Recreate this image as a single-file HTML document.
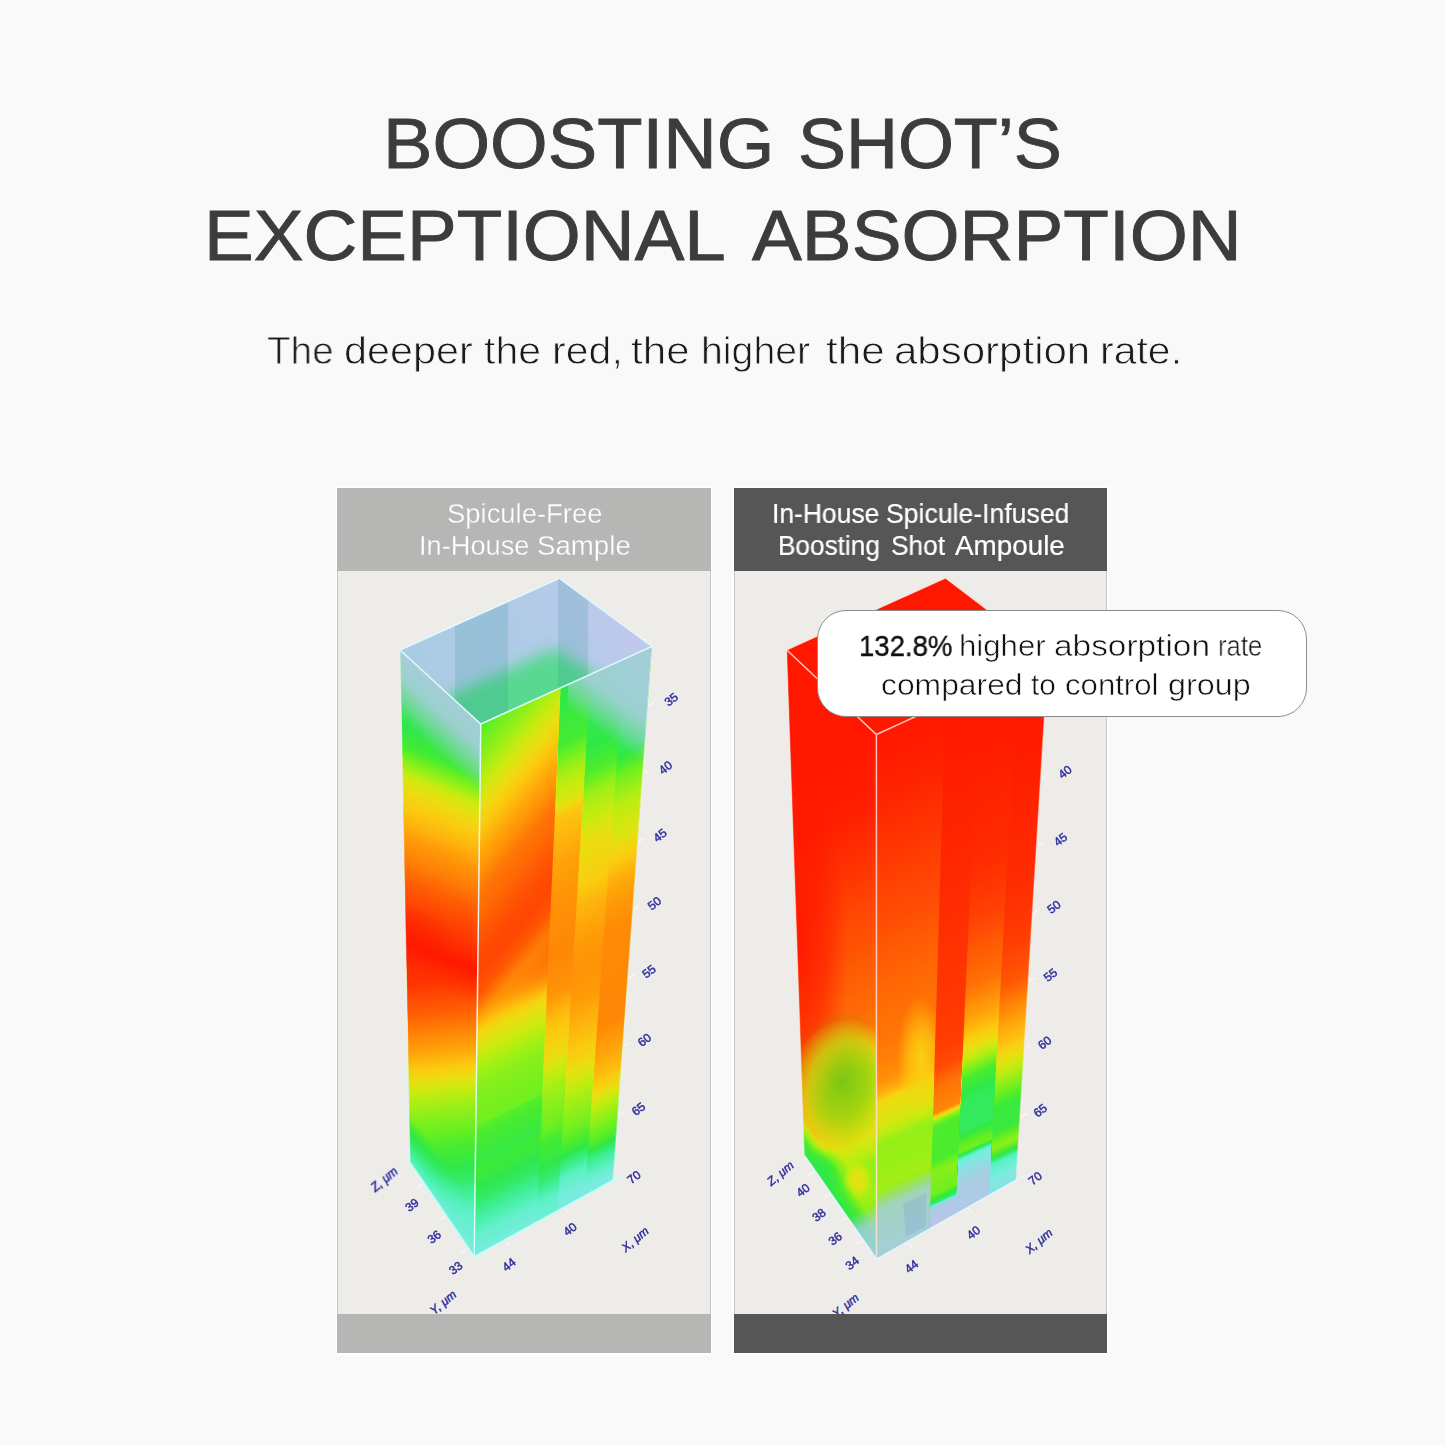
<!DOCTYPE html>
<html>
<head>
<meta charset="utf-8">
<title>Boosting Shot Absorption</title>
<style>
html,body{margin:0;padding:0;}
body{width:1445px;height:1445px;background:#f9f9f9;position:relative;overflow:hidden;font-family:"Liberation Sans",sans-serif;}
.t{position:absolute;white-space:nowrap;transform-origin:0 0;line-height:1;will-change:transform;}
.title{color:#3c3c3c;-webkit-text-stroke:0.9px #3c3c3c;}
.sub{color:#1a1a1a;-webkit-text-stroke:0.8px #f9f9f9;}
.panel{position:absolute;top:488px;height:865px;background:#eeece8;box-shadow:0 0 0 1.5px #fff;}
.hdr{position:absolute;left:0;top:0;width:100%;height:83px;}
.ftr{position:absolute;left:0;bottom:0;width:100%;height:39px;}
.edge{position:absolute;top:83px;bottom:39px;width:1px;background:#c9c7c8;}
.hl{color:#fff;}
.hL{-webkit-text-stroke:0.3px #b6b6b5;}
.hR{-webkit-text-stroke:0.2px #fff;}
.callout{position:absolute;left:816.5px;top:610px;width:488px;height:104.5px;border:1px solid #8c8c8c;border-radius:29px;background:#fff;}
.ct{color:#111;}
.cb{-webkit-text-stroke:0.4px #111;}
.cl{-webkit-text-stroke:0.55px #fff;}
svg{position:absolute;left:0;top:0;}
</style>
</head>
<body>
<div class="panel" style="left:337px;width:373.5px;">
  <div class="hdr" style="background:#b6b6b5;"></div>
  <div class="ftr" style="background:#b6b6b5;"></div>
  <div class="edge" style="left:0;"></div><div class="edge" style="right:0;"></div>
</div>
<div class="panel" style="left:733.5px;width:373px;">
  <div class="hdr" style="background:#565656;"></div>
  <div class="ftr" style="background:#565656;"></div>
  <div class="edge" style="left:0;"></div><div class="edge" style="right:0;"></div>
</div>
<svg width="1445" height="1445" viewBox="0 0 1445 1445">
<defs>
<filter id="jet" x="0" y="0" width="1445" height="1445" filterUnits="userSpaceOnUse" color-interpolation-filters="sRGB"><feComponentTransfer><feFuncR type="table" tableValues="0.722 0.690 0.659 0.580 0.471 0.345 0.251 0.204 0.188 0.282 0.439 0.596 0.769 0.910 0.988 1.000 1.000 1.000 1.000 1.000 1.000"/><feFuncG type="table" tableValues="0.776 0.792 0.808 0.863 0.933 0.949 0.941 0.925 0.910 0.925 0.941 0.941 0.925 0.878 0.800 0.690 0.573 0.463 0.353 0.220 0.094"/><feFuncB type="table" tableValues="0.918 0.910 0.894 0.886 0.878 0.753 0.596 0.408 0.282 0.188 0.125 0.094 0.063 0.063 0.063 0.047 0.031 0.024 0.016 0.008 0.000"/></feComponentTransfer></filter>
<filter id="b6" x="-30%" y="-30%" width="160%" height="160%"><feGaussianBlur stdDeviation="7"/></filter>
<clipPath id="cpALL"><rect x="338" y="571" width="371.5" height="743"/><rect x="734.5" y="571" width="371" height="743"/></clipPath><clipPath id="cpL"><rect x="338" y="571" width="371.5" height="743"/></clipPath><clipPath id="cpR"><rect x="734.5" y="571" width="371" height="743"/></clipPath>
<clipPath id="a1"><polygon points="400.0,650.0 559.4,578.4 652.0,646.4 613.0,1180.4 474.2,1256.8 410.0,1162.5"/></clipPath>
<linearGradient id="a2" gradientUnits="userSpaceOnUse" x1="498.2" y1="898.0" x2="532.3" y2="1239.2"><stop offset="0.0000" stop-color="#ffffff"/><stop offset="0.1449" stop-color="#fcfcfc"/><stop offset="0.2174" stop-color="#f5f5f5"/><stop offset="0.2609" stop-color="#ededed"/><stop offset="0.3159" stop-color="#e3e3e3"/><stop offset="0.3768" stop-color="#d1d1d1"/><stop offset="0.4348" stop-color="#c2c2c2"/><stop offset="0.4986" stop-color="#ababab"/><stop offset="0.5478" stop-color="#999999"/><stop offset="0.5971" stop-color="#8c8c8c"/><stop offset="0.6493" stop-color="#808080"/><stop offset="0.6986" stop-color="#757575"/><stop offset="0.7478" stop-color="#6b6b6b"/><stop offset="0.8000" stop-color="#5c5c5c"/><stop offset="0.8493" stop-color="#4c4c4c"/><stop offset="0.8986" stop-color="#404040"/><stop offset="1.0000" stop-color="#363636"/></linearGradient>
<linearGradient id="a3" gradientUnits="userSpaceOnUse" x1="489.1" y1="703.2" x2="381.7" y2="971.8"><stop offset="0.0000" stop-color="#666666"/><stop offset="0.1839" stop-color="#666666"/><stop offset="0.2452" stop-color="#707070"/><stop offset="0.2903" stop-color="#858585"/><stop offset="0.3387" stop-color="#9c9c9c"/><stop offset="0.4065" stop-color="#adadad"/><stop offset="0.4742" stop-color="#bababa"/><stop offset="0.5419" stop-color="#c9c9c9"/><stop offset="0.6065" stop-color="#d4d4d4"/><stop offset="0.6742" stop-color="#e3e3e3"/><stop offset="0.7419" stop-color="#ededed"/><stop offset="0.8097" stop-color="#f5f5f5"/><stop offset="0.8774" stop-color="#ffffff"/><stop offset="0.9355" stop-color="#f7f7f7" stop-opacity="0.6"/><stop offset="1.0000" stop-color="#ededed" stop-opacity="0"/></linearGradient>
<linearGradient id="a4" gradientUnits="userSpaceOnUse" x1="250.5" y1="882.8" x2="227.2" y2="898.9"><stop offset="0.0000" stop-color="#383838" stop-opacity="0"/><stop offset="0.6122" stop-color="#383838" stop-opacity="0.5"/><stop offset="1.0000" stop-color="#333333" stop-opacity="0.85"/></linearGradient>
<linearGradient id="a5" gradientUnits="userSpaceOnUse" x1="570.6" y1="903.7" x2="692.7" y2="1147.8"><stop offset="0.0000" stop-color="#f0f0f0"/><stop offset="0.0847" stop-color="#f2f2f2"/><stop offset="0.1531" stop-color="#e6e6e6"/><stop offset="0.1889" stop-color="#d9d9d9"/><stop offset="0.2215" stop-color="#c7c7c7"/><stop offset="0.2476" stop-color="#b8b8b8"/><stop offset="0.2736" stop-color="#ababab"/><stop offset="0.3388" stop-color="#9c9c9c"/><stop offset="0.3974" stop-color="#8f8f8f"/><stop offset="0.4528" stop-color="#878787"/><stop offset="0.5668" stop-color="#808080"/><stop offset="0.6221" stop-color="#787878"/><stop offset="0.6775" stop-color="#707070"/><stop offset="0.7492" stop-color="#6b6b6b"/><stop offset="0.8143" stop-color="#5c5c5c"/><stop offset="0.8730" stop-color="#4a4a4a"/><stop offset="0.9316" stop-color="#3b3b3b"/><stop offset="1.0000" stop-color="#333333"/></linearGradient>
<linearGradient id="a6" gradientUnits="userSpaceOnUse" x1="469.1" y1="713.8" x2="647.2" y2="868.7"><stop offset="0.0000" stop-color="#707070"/><stop offset="0.0658" stop-color="#757575"/><stop offset="0.1890" stop-color="#8f8f8f"/><stop offset="0.2466" stop-color="#9c9c9c"/><stop offset="0.3014" stop-color="#a8a8a8"/><stop offset="0.3589" stop-color="#b5b5b5"/><stop offset="0.4164" stop-color="#c2c2c2"/><stop offset="0.4740" stop-color="#cccccc"/><stop offset="0.5288" stop-color="#d9d9d9"/><stop offset="0.5863" stop-color="#dedede"/><stop offset="0.6438" stop-color="#e6e6e6"/><stop offset="0.7014" stop-color="#ebebeb"/><stop offset="0.7562" stop-color="#ededed"/><stop offset="0.8137" stop-color="#e6e6e6"/><stop offset="0.8438" stop-color="#d9d9d9" stop-opacity="0.85"/><stop offset="0.8712" stop-color="#c7c7c7" stop-opacity="0.65"/><stop offset="0.9041" stop-color="#b8b8b8" stop-opacity="0.4"/><stop offset="0.9452" stop-color="#ababab" stop-opacity="0.2"/><stop offset="1.0000" stop-color="#a3a3a3" stop-opacity="0"/></linearGradient>
<linearGradient id="a7" gradientUnits="userSpaceOnUse" x1="486.1" y1="734.6" x2="696.3" y2="1155.0"><stop offset="0.0000" stop-color="#666666"/><stop offset="0.0926" stop-color="#737373"/><stop offset="0.1481" stop-color="#919191"/><stop offset="0.2037" stop-color="#a3a3a3"/><stop offset="0.2259" stop-color="#b5b5b5"/><stop offset="0.3074" stop-color="#c4c4c4"/><stop offset="0.3889" stop-color="#cccccc"/><stop offset="0.4815" stop-color="#d1d1d1"/><stop offset="0.5556" stop-color="#cccccc"/><stop offset="0.6111" stop-color="#b8b8b8"/><stop offset="0.6759" stop-color="#a8a8a8"/><stop offset="0.7074" stop-color="#999999"/><stop offset="0.7389" stop-color="#8f8f8f"/><stop offset="0.7704" stop-color="#878787"/><stop offset="0.8037" stop-color="#808080"/><stop offset="0.8352" stop-color="#707070"/><stop offset="0.8704" stop-color="#696969"/><stop offset="0.9111" stop-color="#525252"/><stop offset="0.9407" stop-color="#3d3d3d"/><stop offset="1.0000" stop-color="#333333"/></linearGradient>
<linearGradient id="a8" gradientUnits="userSpaceOnUse" x1="492.2" y1="746.8" x2="686.6" y2="1135.6"><stop offset="0.0000" stop-color="#616161"/><stop offset="0.0994" stop-color="#666666"/><stop offset="0.1590" stop-color="#787878"/><stop offset="0.1988" stop-color="#8f8f8f"/><stop offset="0.2425" stop-color="#999999"/><stop offset="0.2863" stop-color="#a6a6a6"/><stop offset="0.3300" stop-color="#ababab"/><stop offset="0.3757" stop-color="#b2b2b2"/><stop offset="0.4195" stop-color="#bdbdbd"/><stop offset="0.4632" stop-color="#c4c4c4"/><stop offset="0.5070" stop-color="#c9c9c9"/><stop offset="0.5507" stop-color="#cccccc"/><stop offset="0.6163" stop-color="#c7c7c7"/><stop offset="0.6561" stop-color="#bfbfbf"/><stop offset="0.6899" stop-color="#b8b8b8"/><stop offset="0.7256" stop-color="#b0b0b0"/><stop offset="0.7594" stop-color="#a3a3a3"/><stop offset="0.7932" stop-color="#969696"/><stop offset="0.8270" stop-color="#8c8c8c"/><stop offset="0.8628" stop-color="#828282"/><stop offset="0.9046" stop-color="#707070"/><stop offset="0.9304" stop-color="#575757"/><stop offset="0.9583" stop-color="#404040"/><stop offset="1.0000" stop-color="#333333"/></linearGradient>
<linearGradient id="a9" gradientUnits="userSpaceOnUse" x1="498.4" y1="759.2" x2="687.2" y2="1136.9"><stop offset="0.0000" stop-color="#5c5c5c"/><stop offset="0.1122" stop-color="#616161"/><stop offset="0.1633" stop-color="#808080"/><stop offset="0.2245" stop-color="#969696"/><stop offset="0.2939" stop-color="#a3a3a3"/><stop offset="0.3388" stop-color="#b2b2b2"/><stop offset="0.3857" stop-color="#c2c2c2"/><stop offset="0.4306" stop-color="#c9c9c9"/><stop offset="0.4755" stop-color="#cfcfcf"/><stop offset="0.6735" stop-color="#d1d1d1"/><stop offset="0.7082" stop-color="#c9c9c9"/><stop offset="0.7449" stop-color="#c2c2c2"/><stop offset="0.7796" stop-color="#b8b8b8"/><stop offset="0.8143" stop-color="#a8a8a8"/><stop offset="0.8367" stop-color="#999999"/><stop offset="0.8714" stop-color="#8a8a8a"/><stop offset="0.9143" stop-color="#757575"/><stop offset="0.9449" stop-color="#525252"/><stop offset="0.9796" stop-color="#3b3b3b"/><stop offset="1.0000" stop-color="#333333"/></linearGradient>
<clipPath id="a10"><polygon points="400.0,650.0 480.8,724.0 474.2,1256.8 410.0,1162.5"/></clipPath>
<radialGradient id="a11"><stop offset="0" stop-color="#ffffff" stop-opacity="0.45"/><stop offset="0.5" stop-color="#ffffff" stop-opacity="0.270"/><stop offset="1" stop-color="#ffffff" stop-opacity="0"/></radialGradient>
<clipPath id="a12"><polygon points="400.0,650.0 559.4,578.4 652.0,646.4 480.8,724.0"/></clipPath>
<linearGradient id="a13" gradientUnits="userSpaceOnUse" x1="420" y1="700" x2="640" y2="600"><stop offset="0" stop-color="#aacbe4"/><stop offset="0.6" stop-color="#b2cbe8"/><stop offset="1" stop-color="#c3c8ee"/></linearGradient>
<linearGradient id="a14" gradientUnits="userSpaceOnUse" x1="480.8" y1="724.0" x2="446.5" y2="761.4"><stop offset="0.0000" stop-color="#aecbe5" stop-opacity="0.93"/><stop offset="0.3824" stop-color="#aecbe5" stop-opacity="0.85"/><stop offset="0.6765" stop-color="#aecbe5" stop-opacity="0.5"/><stop offset="1.0000" stop-color="#aecbe5" stop-opacity="0.0"/></linearGradient>
<linearGradient id="a15" gradientUnits="userSpaceOnUse" x1="559.0" y1="616.9" x2="518.5" y2="672.4"><stop offset="0.0000" stop-color="#aecbe5" stop-opacity="0.9"/><stop offset="0.4706" stop-color="#aecbe5" stop-opacity="0.85"/><stop offset="0.7647" stop-color="#aecbe5" stop-opacity="0.45"/><stop offset="1.0000" stop-color="#aecbe5" stop-opacity="0.0"/></linearGradient>
<clipPath id="a16"><polygon points="480.8,724.0 652.0,646.4 613.0,1180.4 474.2,1256.8"/></clipPath>
<clipPath id="b1"><polygon points="786.6,649.7 945.6,577.8 1048.0,656.0 1016.0,1180.3 876.5,1259.2 804.3,1155.4"/></clipPath>
<linearGradient id="b2" gradientUnits="userSpaceOnUse" x1="876.6" y1="734.9" x2="1086.2" y2="1154.1"><stop offset="0.0000" stop-color="#ffffff"/><stop offset="0.1240" stop-color="#fcfcfc"/><stop offset="0.2195" stop-color="#f5f5f5"/><stop offset="0.3149" stop-color="#ededed"/><stop offset="0.4103" stop-color="#e6e6e6"/><stop offset="0.5057" stop-color="#dedede"/><stop offset="0.5439" stop-color="#d9d9d9"/><stop offset="0.5859" stop-color="#cccccc"/><stop offset="0.6260" stop-color="#b8b8b8"/><stop offset="0.6775" stop-color="#b2b2b2"/><stop offset="0.7061" stop-color="#b0b0b0"/><stop offset="0.7252" stop-color="#a8a8a8"/><stop offset="0.7538" stop-color="#a3a3a3"/><stop offset="0.7824" stop-color="#999999"/><stop offset="0.8111" stop-color="#8c8c8c"/><stop offset="0.8397" stop-color="#8a8a8a"/><stop offset="0.8683" stop-color="#8f8f8f"/><stop offset="0.9160" stop-color="#878787"/><stop offset="1.0000" stop-color="#808080"/></linearGradient>
<clipPath id="b3"><polygon points="786.6,649.7 876.4,734.5 876.5,1259.2 804.3,1155.4"/></clipPath>
<radialGradient id="b4"><stop offset="0" stop-color="#ffffff" stop-opacity="0.95"/><stop offset="0.55" stop-color="#ffffff" stop-opacity="0.570"/><stop offset="1" stop-color="#ffffff" stop-opacity="0"/></radialGradient>
<radialGradient id="b5"><stop offset="0" stop-color="#808080" stop-opacity="0.85"/><stop offset="0.6" stop-color="#808080" stop-opacity="0.510"/><stop offset="1" stop-color="#808080" stop-opacity="0"/></radialGradient>
<radialGradient id="b6"><stop offset="0" stop-color="#757575" stop-opacity="0.8"/><stop offset="0.5" stop-color="#757575" stop-opacity="0.480"/><stop offset="1" stop-color="#757575" stop-opacity="0"/></radialGradient>
<radialGradient id="b7"><stop offset="0" stop-color="#616161" stop-opacity="0.95"/><stop offset="0.5" stop-color="#616161" stop-opacity="0.570"/><stop offset="1" stop-color="#616161" stop-opacity="0"/></radialGradient>
<radialGradient id="b8"><stop offset="0" stop-color="#adadad" stop-opacity="0.9"/><stop offset="0.5" stop-color="#adadad" stop-opacity="0.540"/><stop offset="1" stop-color="#adadad" stop-opacity="0"/></radialGradient>
<linearGradient id="b9" gradientUnits="userSpaceOnUse" x1="876.6" y1="734.9" x2="1072.7" y2="1170.7"><stop offset="0.0000" stop-color="#ffffff"/><stop offset="0.1240" stop-color="#fafafa"/><stop offset="0.2385" stop-color="#f2f2f2"/><stop offset="0.3531" stop-color="#ebebeb"/><stop offset="0.4485" stop-color="#e3e3e3"/><stop offset="0.5057" stop-color="#dedede"/><stop offset="0.5458" stop-color="#dbdbdb"/><stop offset="0.5859" stop-color="#d9d9d9"/><stop offset="0.6260" stop-color="#d4d4d4"/><stop offset="0.6660" stop-color="#cccccc"/><stop offset="0.6908" stop-color="#bdbdbd"/><stop offset="0.7080" stop-color="#a8a8a8"/><stop offset="0.7347" stop-color="#a3a3a3"/><stop offset="0.7576" stop-color="#9c9c9c"/><stop offset="0.7844" stop-color="#8c8c8c"/><stop offset="0.8244" stop-color="#8c8c8c"/><stop offset="0.8626" stop-color="#8f8f8f"/><stop offset="0.9065" stop-color="#878787"/><stop offset="1.0000" stop-color="#808080"/></linearGradient>
<clipPath id="b10"><polygon points="876.4,734.5 945.5,700.0 928.6,1262.0 876.5,1259.2"/></clipPath>
<radialGradient id="b11"><stop offset="0" stop-color="#adadad" stop-opacity="0.9"/><stop offset="0.5" stop-color="#adadad" stop-opacity="0.540"/><stop offset="1" stop-color="#adadad" stop-opacity="0"/></radialGradient>
<linearGradient id="b12" gradientUnits="userSpaceOnUse" x1="877.9" y1="737.9" x2="1071.1" y2="1167.1"><stop offset="0.0000" stop-color="#ffffff"/><stop offset="0.3810" stop-color="#f7f7f7"/><stop offset="0.6514" stop-color="#f0f0f0"/><stop offset="0.6914" stop-color="#ebebeb"/><stop offset="0.7314" stop-color="#d9d9d9"/><stop offset="0.7771" stop-color="#d1d1d1"/><stop offset="0.7924" stop-color="#8c8c8c"/><stop offset="0.8038" stop-color="#757575"/><stop offset="0.8686" stop-color="#737373"/><stop offset="0.8895" stop-color="#878787"/><stop offset="0.9333" stop-color="#808080"/><stop offset="0.9505" stop-color="#595959"/><stop offset="0.9600" stop-color="#0a0a0a"/><stop offset="1.0000" stop-color="#000000"/></linearGradient>
<linearGradient id="b13" gradientUnits="userSpaceOnUse" x1="883.9" y1="751.1" x2="1066.8" y2="1157.6"><stop offset="0.0000" stop-color="#ffffff"/><stop offset="0.3200" stop-color="#f7f7f7"/><stop offset="0.4400" stop-color="#ededed"/><stop offset="0.5600" stop-color="#dbdbdb"/><stop offset="0.6020" stop-color="#cccccc"/><stop offset="0.6420" stop-color="#bfbfbf"/><stop offset="0.6760" stop-color="#adadad"/><stop offset="0.7060" stop-color="#999999"/><stop offset="0.7460" stop-color="#737373"/><stop offset="0.7920" stop-color="#5e5e5e"/><stop offset="0.8500" stop-color="#5e5e5e"/><stop offset="0.8760" stop-color="#7a7a7a"/><stop offset="0.8920" stop-color="#808080"/><stop offset="0.9060" stop-color="#383838"/><stop offset="0.9540" stop-color="#1a1a1a"/><stop offset="1.0000" stop-color="#0f0f0f"/></linearGradient>
<linearGradient id="b14" gradientUnits="userSpaceOnUse" x1="889.7" y1="764.2" x2="1063.6" y2="1150.5"><stop offset="0.0000" stop-color="#ffffff"/><stop offset="0.3774" stop-color="#f7f7f7"/><stop offset="0.5031" stop-color="#f0f0f0"/><stop offset="0.5870" stop-color="#e6e6e6"/><stop offset="0.6310" stop-color="#d4d4d4"/><stop offset="0.6730" stop-color="#c4c4c4"/><stop offset="0.7170" stop-color="#b5b5b5"/><stop offset="0.7610" stop-color="#9e9e9e"/><stop offset="0.8050" stop-color="#858585"/><stop offset="0.8470" stop-color="#6b6b6b"/><stop offset="0.8910" stop-color="#6b6b6b"/><stop offset="0.9266" stop-color="#8a8a8a"/><stop offset="0.9434" stop-color="#737373"/><stop offset="0.9602" stop-color="#404040"/><stop offset="1.0000" stop-color="#2e2e2e"/></linearGradient>
<linearGradient id="b15" gradientUnits="userSpaceOnUse" x1="648.1" y1="893.1" x2="630.7" y2="905.1"><stop offset="0.0000" stop-color="#666666" stop-opacity="0"/><stop offset="0.5676" stop-color="#666666" stop-opacity="0.8"/><stop offset="1.0000" stop-color="#616161" stop-opacity="0.95"/></linearGradient>
<linearGradient id="b16" gradientUnits="userSpaceOnUse" x1="1063.8" y1="1109.3" x2="1086.2" y2="1154.1"><stop offset="0.0000" stop-color="#a9cbe8" stop-opacity="0.0"/><stop offset="0.3393" stop-color="#a9cbe8" stop-opacity="0.78"/><stop offset="1.0000" stop-color="#a9cbe8" stop-opacity="0.92"/></linearGradient>
<linearGradient id="b17" gradientUnits="userSpaceOnUse" x1="1047.6" y1="1115.0" x2="1072.7" y2="1170.7"><stop offset="0.0000" stop-color="#a9cbe8" stop-opacity="0.0"/><stop offset="0.2836" stop-color="#a9cbe8" stop-opacity="0.8"/><stop offset="1.0000" stop-color="#a9cbe8" stop-opacity="0.93"/></linearGradient>
<radialGradient id="b18"><stop offset="0" stop-color="#6f9c0c" stop-opacity="0.5"/><stop offset="0.55" stop-color="#6f9c0c" stop-opacity="0.300"/><stop offset="1" stop-color="#6f9c0c" stop-opacity="0"/></radialGradient>
</defs>
<g filter="url(#jet)"><g clip-path="url(#a1)"><polygon points="400.0,650.0 559.4,578.4 652.0,646.4 613.0,1180.4 474.2,1256.8 410.0,1162.5" fill="#666666" /><polygon points="400.0,650.0 480.8,724.0 474.2,1256.8 410.0,1162.5" fill="url(#a2)" /><polygon points="400.0,650.0 480.8,724.0 474.2,1256.8 410.0,1162.5" fill="url(#a3)" /><polygon points="400.0,650.0 480.8,724.0 474.2,1256.8 410.0,1162.5" fill="url(#a4)" /><polygon points="480.8,724.0 652.0,646.4 613.0,1180.4 474.2,1256.8" fill="url(#a5)" /><polygon points="480.8,724.0 652.0,646.4 613.0,1180.4 474.2,1256.8" fill="url(#a6)" /><polygon points="564.7,600.0 596.1,600.0 555.0,1262.0 534.6,1262.0" fill="url(#a7)" /><polygon points="595.5,600.0 629.0,600.0 580.5,1262.0 554.4,1262.0" fill="url(#a8)" /><polygon points="628.4,600.0 659.0,600.0 610.7,1262.0 579.9,1262.0" fill="url(#a9)" /><polygon points="476.0,1127.0 543.0,1094.0 543.0,1131.0 476.0,1167.0" fill="#000000" opacity="0.045"/><g clip-path="url(#a10)"><ellipse cx="0" cy="0" rx="50" ry="26" transform="translate(412,932) rotate(25)" fill="url(#a11)"/></g></g><g clip-path="url(#b1)"><polygon points="786.6,649.7 945.6,577.8 1048.0,656.0 1016.0,1180.3 876.5,1259.2 804.3,1155.4" fill="#ffffff" /><polygon points="786.6,649.7 876.4,734.5 876.5,1259.2 804.3,1155.4" fill="url(#b2)" /><g clip-path="url(#b3)"><ellipse cx="0" cy="0" rx="52" ry="190" transform="translate(796,940) rotate(-1.5)" fill="url(#b4)"/></g><g clip-path="url(#b3)"><ellipse cx="0" cy="0" rx="52" ry="62" transform="translate(844,1080) rotate(10)" fill="url(#b5)"/></g><g clip-path="url(#b3)"><ellipse cx="0" cy="0" rx="26" ry="30" transform="translate(820,1128) rotate(0)" fill="url(#b6)"/></g><g clip-path="url(#b3)"><ellipse cx="0" cy="0" rx="26" ry="26" transform="translate(822,1172) rotate(0)" fill="url(#b7)"/></g><g clip-path="url(#b3)"><ellipse cx="0" cy="0" rx="15" ry="20" transform="translate(858,1180) rotate(0)" fill="url(#b8)"/></g><polygon points="876.4,734.5 1048.0,656.0 1016.0,1180.3 876.5,1259.2" fill="url(#b9)" /><g clip-path="url(#b10)"><ellipse cx="0" cy="0" rx="24" ry="62" transform="translate(921,1058) rotate(0)" fill="url(#b11)"/></g><polygon points="948.5,600.0 983.9,600.0 954.1,1262.0 928.6,1262.0" fill="url(#b12)" /><polygon points="983.2,600.0 1022.4,600.0 985.9,1262.0 953.5,1262.0" fill="url(#b13)" /><polygon points="1021.8,600.0 1055.1,600.0 1014.9,1262.0 985.3,1262.0" fill="url(#b14)" /><polygon points="800.0,1090.0 877.0,1090.0 877.0,1262.0 800.0,1150.0" fill="url(#b15)" /></g></g>
<g clip-path="url(#a1)"><polygon points="400.0,650.0 559.4,578.4 652.0,646.4 480.8,724.0" fill="url(#a13)" /><g clip-path="url(#a12)"><polygon points="394.0,720.0 555.4,648.4 658.0,716.4 480.8,854.0" fill="#3fdc78" opacity="0.78" filter="url(#b6)"/></g><g clip-path="url(#a12)" opacity="0.16"><polygon points="455,560 508,560 508,760 455,760" fill="#2a8a90"/><polygon points="558,560 588,560 588,760 558,760" fill="#2a8a90"/></g><polygon points="400.0,650.0 480.8,724.0 480.8,804.0 400.0,730.0" fill="url(#a14)" /><g clip-path="url(#a16)"><polygon points="568.1,600.0 700.0,600.0 700.0,760.0 568.1,760.0" fill="url(#a15)"/></g></g><g clip-path="url(#b1)"><polygon points="786.6,649.7 876.4,734.5 876.5,1259.2 804.3,1155.4" fill="url(#b16)" /><polygon points="876.4,734.5 944.5,700.0 928.6,1262.0 876.5,1259.2" fill="url(#b17)" /><g clip-path="url(#b3)"><ellipse cx="0" cy="0" rx="50" ry="72" transform="translate(840,1080) rotate(8)" fill="url(#b18)"/></g><polygon points="903.0,1204.0 926.0,1193.0 926.0,1226.0 906.0,1237.0" fill="#7f9fd8" opacity="0.28"/></g>
<path d="M400,650 L559.4,578.4 L652,646.4 L480.8,724 Z M480.8,724 L474.2,1256.8" fill="none" stroke="#e4fbff" stroke-opacity="0.95" stroke-width="1.5"/><path d="M400,650 L410,1162.5 M613,1180.4 L652,646.4" fill="none" stroke="#e4fbff" stroke-opacity="0.47" stroke-width="1.3"/><path d="M410,1162.5 L474.2,1256.8 L622.7,1175.1" fill="none" stroke="#c4fff6" stroke-opacity="0.9" stroke-width="1.8"/>
<path d="M786.6,649.7 L945.6,577.8 L1048,656 L876.4,734.5 Z M876.4,734.5 L876.5,1259.2" fill="none" stroke="#ffe2dc" stroke-opacity="0.85" stroke-width="1.5"/><path d="M786.6,649.7 L804.3,1155.4 M1016,1180.3 L1048,656" fill="none" stroke="#ffe2dc" stroke-opacity="0.42" stroke-width="1.3"/><path d="M804.3,1155.4 L876.5,1259.2 L1025.8,1174.8" fill="none" stroke="#e6f6ff" stroke-opacity="0.9" stroke-width="1.8"/>
<g clip-path="url(#cpALL)"><path d="M648.7,705.5 l5.5,-3 M643.7,773.7 l5.5,-3 M638.8,841.4 l5.5,-3 M633.8,909.4 l5.5,-3 M628.8,977.6 l5.5,-3 M623.8,1046.0 l5.5,-3 M618.8,1115.0 l5.5,-3 M506.0,1240.8 l3.3,5 M565.0,1208.4 l3.3,5 M423.0,1184.1 l-5.5,3.5 M445.0,1216.4 l-5.5,3.5 M467.0,1248.7 l-5.5,3.5 M1041.7,778.0 l5.5,-3 M1037.6,845.6 l5.5,-3 M1033.5,913.1 l5.5,-3 M1029.3,981.0 l5.5,-3 M1025.2,1048.8 l5.5,-3 M1021.1,1116.6 l5.5,-3 M908.6,1242.5 l3.3,5 M968.6,1208.6 l3.3,5 M814.0,1171.8 l-5.5,3.5 M830.0,1194.8 l-5.5,3.5 M846.0,1217.8 l-5.5,3.5 M862.0,1240.8 l-5.5,3.5" fill="none" stroke="#ffffff" stroke-opacity="0.7" stroke-width="1.3"/></g>
<g fill="#2b2b9c" font-family="Liberation Sans, sans-serif" clip-path="url(#cpL)"></g>
<g fill="#2f2f9e" stroke="#2f2f9e" stroke-width="0.45" font-family="Liberation Sans, sans-serif"><g clip-path="url(#cpALL)"><text x="0" y="0" transform="translate(671.2,699.5) rotate(-38)" text-anchor="middle" dominant-baseline="central" font-size="12">35</text>
<text x="0" y="0" transform="translate(665.6,767.7) rotate(-38)" text-anchor="middle" dominant-baseline="central" font-size="12">40</text>
<text x="0" y="0" transform="translate(660.1,835.4) rotate(-38)" text-anchor="middle" dominant-baseline="central" font-size="12">45</text>
<text x="0" y="0" transform="translate(654.6,903.4) rotate(-38)" text-anchor="middle" dominant-baseline="central" font-size="12">50</text>
<text x="0" y="0" transform="translate(649,971.6) rotate(-38)" text-anchor="middle" dominant-baseline="central" font-size="12">55</text>
<text x="0" y="0" transform="translate(644.5,1040) rotate(-38)" text-anchor="middle" dominant-baseline="central" font-size="12">60</text>
<text x="0" y="0" transform="translate(638.6,1109) rotate(-38)" text-anchor="middle" dominant-baseline="central" font-size="12">65</text>
<text x="0" y="0" transform="translate(634,1177.3) rotate(-38)" text-anchor="middle" dominant-baseline="central" font-size="12">70</text>
<text x="0" y="0" transform="translate(570,1229.3) rotate(-38)" text-anchor="middle" dominant-baseline="central" font-size="12">40</text>
<text x="0" y="0" transform="translate(509,1264.7) rotate(-38)" text-anchor="middle" dominant-baseline="central" font-size="12">44</text>
<text x="0" y="0" transform="translate(412,1205) rotate(-38)" text-anchor="middle" dominant-baseline="central" font-size="12">39</text>
<text x="0" y="0" transform="translate(434.2,1237) rotate(-38)" text-anchor="middle" dominant-baseline="central" font-size="12">36</text>
<text x="0" y="0" transform="translate(455.7,1268) rotate(-38)" text-anchor="middle" dominant-baseline="central" font-size="12">33</text>
<text x="0" y="0" transform="translate(635.2,1239.3) rotate(-40)" text-anchor="middle" dominant-baseline="central" font-size="12" font-style="italic">X, μm</text>
<text x="0" y="0" transform="translate(384.4,1179.5) rotate(-40)" text-anchor="middle" dominant-baseline="central" font-size="12" font-style="italic">Z, μm</text>
<text x="0" y="0" transform="translate(443,1302.4) rotate(-40)" text-anchor="middle" dominant-baseline="central" font-size="12" font-style="italic">Y, μm</text>
<text x="0" y="0" transform="translate(1065.1,772) rotate(-38)" text-anchor="middle" dominant-baseline="central" font-size="12">40</text>
<text x="0" y="0" transform="translate(1060.5,839.6) rotate(-38)" text-anchor="middle" dominant-baseline="central" font-size="12">45</text>
<text x="0" y="0" transform="translate(1054,907.1) rotate(-38)" text-anchor="middle" dominant-baseline="central" font-size="12">50</text>
<text x="0" y="0" transform="translate(1050.6,975) rotate(-38)" text-anchor="middle" dominant-baseline="central" font-size="12">55</text>
<text x="0" y="0" transform="translate(1044.9,1042.8) rotate(-38)" text-anchor="middle" dominant-baseline="central" font-size="12">60</text>
<text x="0" y="0" transform="translate(1040.4,1110.6) rotate(-38)" text-anchor="middle" dominant-baseline="central" font-size="12">65</text>
<text x="0" y="0" transform="translate(1035.4,1178.4) rotate(-38)" text-anchor="middle" dominant-baseline="central" font-size="12">70</text>
<text x="0" y="0" transform="translate(973.6,1232.7) rotate(-38)" text-anchor="middle" dominant-baseline="central" font-size="12">40</text>
<text x="0" y="0" transform="translate(911.6,1266.6) rotate(-38)" text-anchor="middle" dominant-baseline="central" font-size="12">44</text>
<text x="0" y="0" transform="translate(803.1,1190.3) rotate(-38)" text-anchor="middle" dominant-baseline="central" font-size="12">40</text>
<text x="0" y="0" transform="translate(819,1215) rotate(-38)" text-anchor="middle" dominant-baseline="central" font-size="12">38</text>
<text x="0" y="0" transform="translate(835.3,1238.8) rotate(-38)" text-anchor="middle" dominant-baseline="central" font-size="12">36</text>
<text x="0" y="0" transform="translate(852.2,1263.2) rotate(-38)" text-anchor="middle" dominant-baseline="central" font-size="12">34</text>
<text x="0" y="0" transform="translate(1038.8,1241.1) rotate(-40)" text-anchor="middle" dominant-baseline="central" font-size="12" font-style="italic">X, μm</text>
<text x="0" y="0" transform="translate(780.4,1173.3) rotate(-40)" text-anchor="middle" dominant-baseline="central" font-size="12" font-style="italic">Z, μm</text>
<text x="0" y="0" transform="translate(845.5,1305.6) rotate(-40)" text-anchor="middle" dominant-baseline="central" font-size="12" font-style="italic">Y, μm</text></g></g>
</svg>
<div class="callout"></div>
<div class="t title" style="left:382.79px;top:108.23px;font-size:71.2px;transform:scaleX(1.0415);">BOOSTING</div>
<div class="t title" style="left:797.77px;top:108.23px;font-size:71.2px;transform:scaleX(1.0103);">SHOT’S</div>
<div class="t title" style="left:204.17px;top:200.43px;font-size:71.2px;transform:scaleX(1.0468);">EXCEPTIONAL</div>
<div class="t title" style="left:752.20px;top:200.43px;font-size:71.2px;transform:scaleX(1.0493);">ABSORPTION</div>
<div class="t sub" style="left:267.20px;top:331.39px;font-size:39.0px;transform:scaleX(0.9922);">The</div>
<div class="t sub" style="left:344.14px;top:331.39px;font-size:39.0px;transform:scaleX(1.0610);">deeper</div>
<div class="t sub" style="left:484.40px;top:331.39px;font-size:39.0px;transform:scaleX(1.0528);">the</div>
<div class="t sub" style="left:551.59px;top:331.39px;font-size:39.0px;transform:scaleX(1.0534);">red,</div>
<div class="t sub" style="left:630.80px;top:331.39px;font-size:39.0px;transform:scaleX(1.0833);">the</div>
<div class="t sub" style="left:700.99px;top:331.39px;font-size:39.0px;transform:scaleX(1.0073);">higher</div>
<div class="t sub" style="left:826.10px;top:331.39px;font-size:39.0px;transform:scaleX(1.0852);">the</div>
<div class="t sub" style="left:893.92px;top:331.39px;font-size:39.0px;transform:scaleX(1.0773);">absorption</div>
<div class="t sub" style="left:1099.70px;top:331.39px;font-size:39.0px;transform:scaleX(1.0519);">rate.</div>
<div class="t hl hL" style="left:446.68px;top:501.11px;font-size:26.8px;transform:scaleX(1.0233);">Spicule-Free</div>
<div class="t hl hL" style="left:419.17px;top:533.01px;font-size:26.8px;transform:scaleX(1.0149);">In-House</div>
<div class="t hl hL" style="left:536.57px;top:533.01px;font-size:26.8px;transform:scaleX(1.0320);">Sample</div>
<div class="t hl hR" style="left:772.43px;top:501.01px;font-size:26.8px;transform:scaleX(0.9874);">In-House</div>
<div class="t hl hR" style="left:885.71px;top:501.01px;font-size:26.8px;transform:scaleX(0.9928);">Spicule-Infused</div>
<div class="t hl hR" style="left:777.55px;top:533.11px;font-size:26.8px;transform:scaleX(0.9765);">Boosting</div>
<div class="t hl hR" style="left:891.42px;top:533.11px;font-size:26.8px;transform:scaleX(0.9803);">Shot</div>
<div class="t hl hR" style="left:954.90px;top:533.11px;font-size:26.8px;transform:scaleX(1.0385);">Ampoule</div>
<div class="t ct cb" style="left:859.43px;top:630.81px;font-size:29.4px;transform:scaleX(0.9370);">132.8%</div>
<div class="t ct cl" style="left:959.48px;top:630.81px;font-size:29.4px;transform:scaleX(1.0612);">higher</div>
<div class="t ct cl" style="left:1054.16px;top:630.81px;font-size:29.4px;transform:scaleX(1.1363);">absorption</div>
<div class="t ct cl" style="left:1218.13px;top:630.81px;font-size:29.4px;transform:scaleX(0.8743);">rate</div>
<div class="t ct cl" style="left:881.02px;top:669.81px;font-size:29.4px;transform:scaleX(1.0830);">compared</div>
<div class="t ct cl" style="left:1030.90px;top:669.81px;font-size:29.4px;transform:scaleX(1.0097);">to</div>
<div class="t ct cl" style="left:1064.64px;top:669.81px;font-size:29.4px;transform:scaleX(1.0597);">control</div>
<div class="t ct cl" style="left:1167.90px;top:669.81px;font-size:29.4px;transform:scaleX(1.0999);">group</div>
</body>
</html>
